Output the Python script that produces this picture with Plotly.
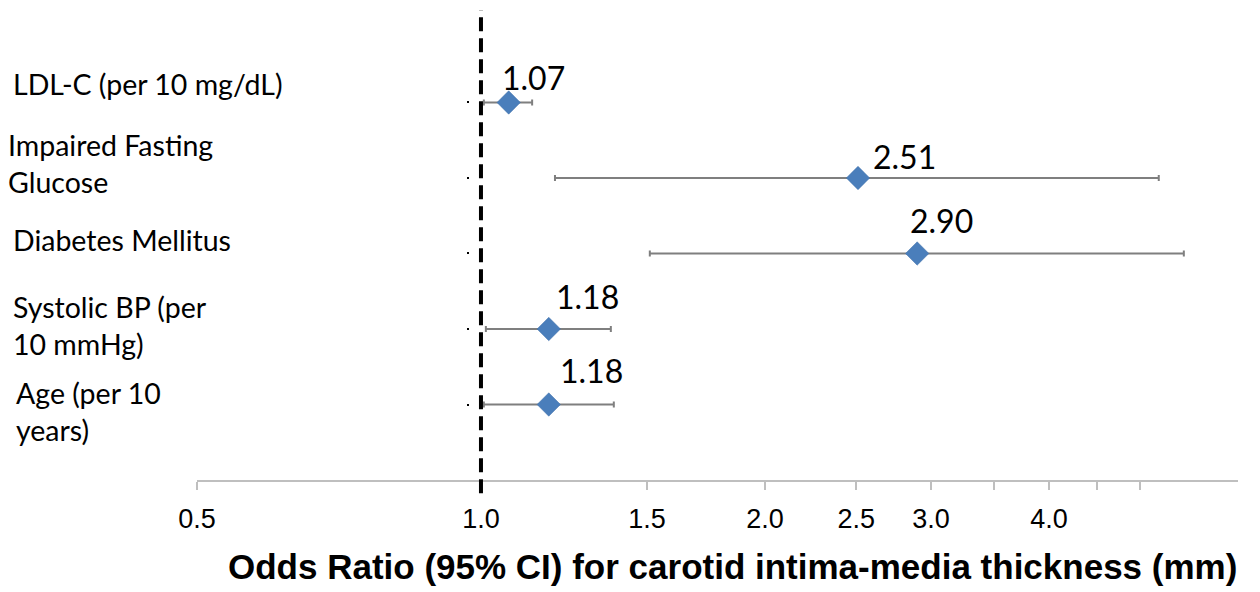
import numpy as np
import plotly.graph_objects as go

# ---- data (top to bottom as drawn) ----
labels = ["LDL-C (per 10 mg/dL)", "Impaired Fasting<br>Glucose", "Diabetes Mellitus",
          "Systolic BP (per<br>10 mmHg)", "Age (per 10<br>years)"]
keys = ["LDL-C", "IFG", "DM", "SBP", "Age"]
odds_ratio = [1.07, 2.51, 2.90, 1.18, 1.18]
ci_low = [1.007, 1.198, 1.51, 1.012, 1.007]
ci_high = [1.133, 5.23, 5.56, 1.373, 1.383]
or_text = ["1.07", "2.51", "2.90", "1.18", "1.18"]

tick_vals = [0.5, 1.0, 1.5, 2.0, 2.5, 3.0, 3.5, 4.0, 4.5, 5.0]
tick_text = ["0.5", "1.0", "1.5", "2.0", "2.5", "3.0", "", "4.0", "", ""]
x_title = "<b>Odds Ratio (95% CI) for carotid intima-media thickness (mm)</b>"

# ---- styling ----
label_yshift = [18, 14, 13, 4, -6.5]
label_x = [-0.179, -0.183, -0.179, -0.179, -0.176]
val_xshift = [25, 46, 24, 39, 43]
val_yshift = [25, 21, 33, 33, 34]

order = keys[::-1]  # bottom to top

fig = go.Figure()
fig.add_trace(go.Scatter(
    x=odds_ratio, y=keys, mode="markers",
    marker=dict(symbol="diamond", size=18, color="#4A7EBB",
                line=dict(width=0.5, color="#3F6FA8")),
    error_x=dict(type="data", symmetric=False,
                 array=[h - o for h, o in zip(ci_high, odds_ratio)],
                 arrayminus=[o - l for o, l in zip(odds_ratio, ci_low)],
                 color="#7F7F7F", thickness=2, width=3),
    showlegend=False, hoverinfo="skip",
))

fig.add_shape(type="line", xref="x", yref="paper", x0=1.0, x1=1.0, y0=-0.028, y1=1.0,
              line=dict(color="black", width=4, dash="14px,7px"))

for i, k in enumerate(keys):
    fig.add_annotation(x=label_x[i], xref="paper", y=k, yref="y", text=labels[i],
                       showarrow=False, xanchor="left", yanchor="middle", align="left",
                       yshift=label_yshift[i],
                       font=dict(family="Lato", size=28.5, color="black"))
    fig.add_annotation(x=np.log10(odds_ratio[i]), xref="x", y=k, yref="y", text=or_text[i],
                       showarrow=False, xanchor="center", yanchor="middle",
                       xshift=val_xshift[i], yshift=val_yshift[i],
                       font=dict(family="Lato", size=32, color="black"))

fig.add_annotation(x=0.5144, xref="paper", y=-0.185, yref="paper", text=x_title,
                   showarrow=False, xanchor="center", yanchor="middle",
                   font=dict(family="Liberation Sans", size=35, color="black"))

fig.update_layout(
    width=1252, height=584,
    margin=dict(l=189, r=22, t=2, b=112),
    paper_bgcolor="white", plot_bgcolor="white",
    xaxis=dict(type="log", range=[np.log10(0.5), 0.8025],
               tickmode="array", tickvals=tick_vals, ticktext=tick_text,
               showgrid=False, zeroline=False,
               showline=True, linecolor="#BFBFBF", linewidth=2,
               ticks="outside", ticklen=8, tickwidth=2, tickcolor="#BFBFBF",
               ticklabelstandoff=6,
               tickfont=dict(family="Liberation Sans", size=27, color="black")),
    yaxis=dict(type="category", categoryorder="array", categoryarray=order,
               range=[-1, 5.225], showgrid=False, zeroline=False, showline=False,
               showticklabels=False, ticks="outside", ticklen=2, tickwidth=1.5,
               tickcolor="black", anchor="free", position=0.2615),
)

fig.write_html("out.html")
